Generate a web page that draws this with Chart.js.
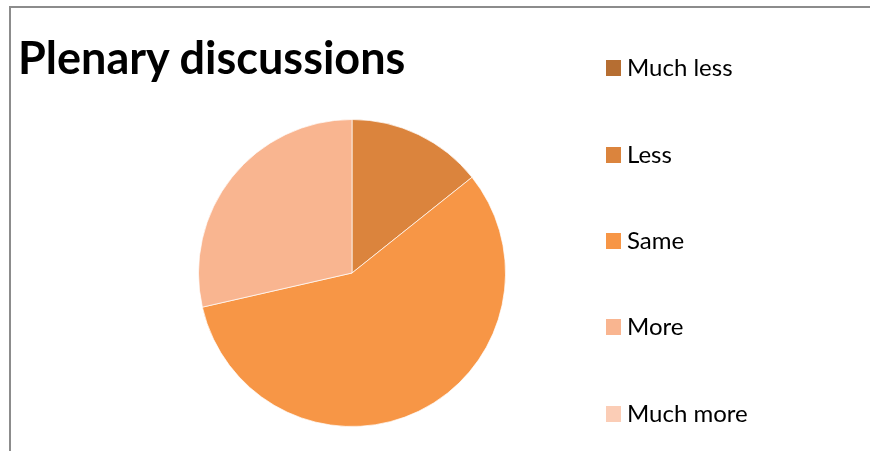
<!DOCTYPE html>
<html>
<head>
<meta charset="utf-8">
<script src="https://cdn.jsdelivr.net/npm/chart.js@4/dist/chart.umd.min.js"></script>
<style>
  html, body { margin: 0; padding: 0; background: #fff; }
  #wrap { position: relative; width: 870px; height: 451px; overflow: hidden; }
  #frame {
    position: absolute; left: 9px; top: 6px; right: -10px; bottom: -10px;
    border-top: 2px solid #8c8c8c; border-left: 2px solid #8c8c8c;
  }
  #chart { position: absolute; left: 0; top: 0; }
  #title {
    position: absolute; left: 18px; top: 30px; line-height: 1.2;
    font: bold 45px Lato, "Open Sans", sans-serif; color: #000; white-space: nowrap;
  }
  .item { position: absolute; left: 606px; height: 16px; }
  .item span.box { position: absolute; left: 0; top: 0; width: 15px; height: 16px; }
  .item span.lbl {
    position: absolute; left: 21px; top: -8px; white-space: nowrap; line-height: 1.2;
    font: 24px Lato, "Open Sans", sans-serif; color: #000;
  }
</style>
</head>
<body>
<div id="wrap">
  <div id="frame"></div>
  <canvas id="chart" width="870" height="451"></canvas>
  <div id="title">Plenary discussions</div>
  <div id="legend"></div>
</div>
<script>
// === Данные ===
const title = 'Plenary discussions';
const categories = ['Much less', 'Less', 'Same', 'More', 'Much more'];
const values = [0, 1, 4, 2, 0];
const colors = ['#b66e32', '#db843d', '#f79646', '#f9b590', '#fbcdb6'];

// === Заголовок ===
document.getElementById('title').textContent = title;

// === Легенда справа ===
const legend = document.getElementById('legend');
const legendTop = [60, 147, 233, 319, 406];
categories.forEach((c, i) => {
  const div = document.createElement('div');
  div.className = 'item';
  div.style.top = legendTop[i] + 'px';
  div.innerHTML = `<span class="box" style="background:${colors[i]}"></span><span class="lbl">${c}</span>`;
  legend.appendChild(div);
});

// === Круговая диаграмма ===
new Chart(document.getElementById('chart'), {
  type: 'pie',
  data: {
    labels: categories,
    datasets: [{
      data: values,
      backgroundColor: colors,
      borderColor: 'rgba(255,255,255,0.7)',
      borderWidth: 1
    }]
  },
  options: {
    responsive: false,
    animation: false,
    layout: { padding: { left: 198, right: 364, top: 119, bottom: 24 } },
    plugins: {
      legend: { display: false },
      tooltip: { enabled: false },
      title: { display: false }
    }
  }
});
</script>
</body>
</html>
